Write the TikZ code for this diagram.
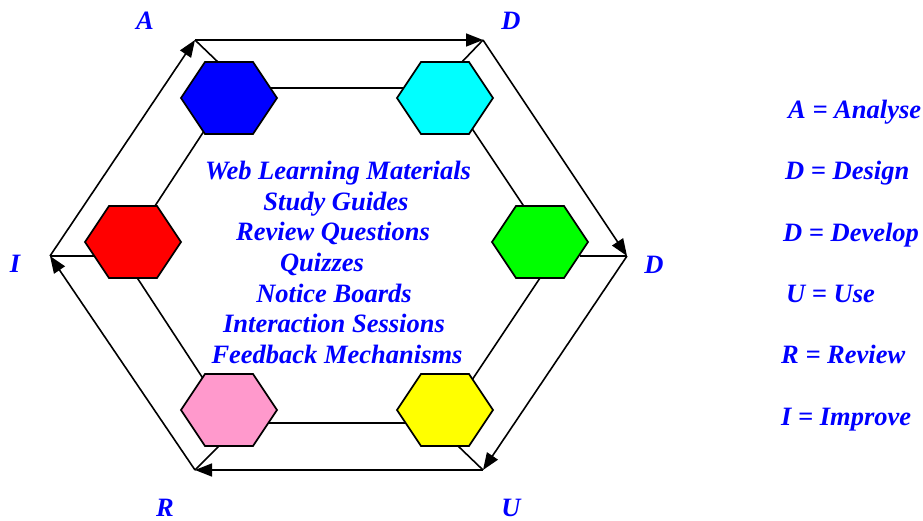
\documentclass[tikz,border=0pt]{standalone}
\usepackage{fontspec}
\setmainfont{Liberation Serif}
\usetikzlibrary{arrows.meta}
\definecolor{hpink}{RGB}{255,153,204}
\definecolor{hblue}{RGB}{0,0,255}
\definecolor{hcyan}{RGB}{0,255,255}
\definecolor{hgreen}{RGB}{0,255,0}
\definecolor{hyellow}{RGB}{255,255,0}
\definecolor{hred}{RGB}{255,0,0}
\newcommand\myhex[3]{%
  \coordinate (#1) at (#2);
  \draw[hexa,fill=#3] (#1) ++(-48,0) -- ++(24,-36) -- ++(48,0) -- ++(24,36) -- ++(-24,36) -- ++(-48,0) -- cycle;}
\begin{document}
\begin{tikzpicture}[x=1pt,y=-1pt,
  lbl/.style={text=hblue,font=\fontsize{26.5}{30}\selectfont\bfseries\itshape,inner sep=0pt},
  ln/.style={line width=1.6pt},
  arr/.style={line width=1.6pt,-{Triangle[length=17pt,width=13pt]}},
  hexa/.style={line width=1.7pt,draw=black,line join=miter}]
\useasboundingbox (0,0) rectangle (923,521);
% outer vertices
\coordinate (vA) at (195,40);
\coordinate (vD1) at (483,40);
\coordinate (vD2) at (627,256);
\coordinate (vU) at (483,470);
\coordinate (vR) at (195,470);
\coordinate (vI) at (50,256);
% inner line end points (under the hexagons)
\coordinate (bc1) at (250,88);  \coordinate (bc2) at (420,88);
\coordinate (cg1) at (467,121); \coordinate (cg2) at (525,208);
\coordinate (gy1) at (540,278); \coordinate (gy2) at (472,380);
\coordinate (yp1) at (420,423); \coordinate (yp2) at (250,423);
\coordinate (pr1) at (204,380); \coordinate (pr2) at (136,276);
\coordinate (rb1) at (153,209); \coordinate (rb2) at (206,128);
\coordinate (sA) at (220,64);   \coordinate (sD1) at (460,64);
\coordinate (sD2) at (580,256); \coordinate (sU) at (457,445);
\coordinate (sR) at (220,445);  \coordinate (sI) at (100,256);
% inner ring
\draw[ln] (bc1) -- (bc2);
\draw[ln] (cg1) -- (cg2);
\draw[ln] (gy1) -- (gy2);
\draw[ln] (yp1) -- (yp2);
\draw[ln] (pr1) -- (pr2);
\draw[ln] (rb1) -- (rb2);
% spokes
\draw[ln] (vA) -- (sA);
\draw[ln] (vD1) -- (sD1);
\draw[ln] (vD2) -- (sD2);
\draw[ln] (vU) -- (sU);
\draw[ln] (vR) -- (sR);
\draw[ln] (vI) -- (sI);
% outer cycle
\draw[arr] (vA) -- (vD1);
\draw[arr] (vD1) -- (vD2);
\draw[arr] (vD2) -- (vU);
\draw[arr] (vU) -- (vR);
\draw[arr] (vR) -- (vI);
\draw[arr] (vI) -- (vA);
% hexagons
\myhex{hb}{229,98}{hblue}
\myhex{hc}{445,98}{hcyan}
\myhex{hg}{540,242}{hgreen}
\myhex{hy}{445,410}{hyellow}
\myhex{hp}{229,410}{hpink}
\myhex{hr}{133,242}{hred}
% vertex labels
\node[lbl] (lA) at (145,21) {A};
\node[lbl] (lD1) at (511,21) {D};
\node[lbl] (lD2) at (654,265) {D};
\node[lbl] (lI) at (15,264) {I};
\node[lbl] (lR) at (165,508) {R};
\node[lbl] (lU) at (511,508) {U};
% central list
\node[lbl,anchor=base] (t1) at (338,180) {Web Learning Materials};
\node[lbl,anchor=base] (t2) at (336,210.5) {Study Guides};
\node[lbl,anchor=base] (t3) at (333,241) {Review Questions};
\node[lbl,anchor=base] (t4) at (322,271.5) {Quizzes};
\node[lbl,anchor=base] (t5) at (334,302) {Notice Boards};
\node[lbl,anchor=base] (t6) at (334,332.5) {Interaction Sessions};
\node[lbl,anchor=base] (t7) at (337,363) {Feedback Mechanisms};
% legend
\node[lbl,anchor=base west] (k1) at (788,119) {A = Analyse};
\node[lbl,anchor=base west] (k2) at (785,180) {D = Design};
\node[lbl,anchor=base west] (k3) at (783,242) {D = Develop};
\node[lbl,anchor=base west] (k4) at (786,302) {U = Use};
\node[lbl,anchor=base west] (k5) at (781,363) {R = Review};
\node[lbl,anchor=base west] (k6) at (781,425) {I = Improve};
\end{tikzpicture}
\end{document}
